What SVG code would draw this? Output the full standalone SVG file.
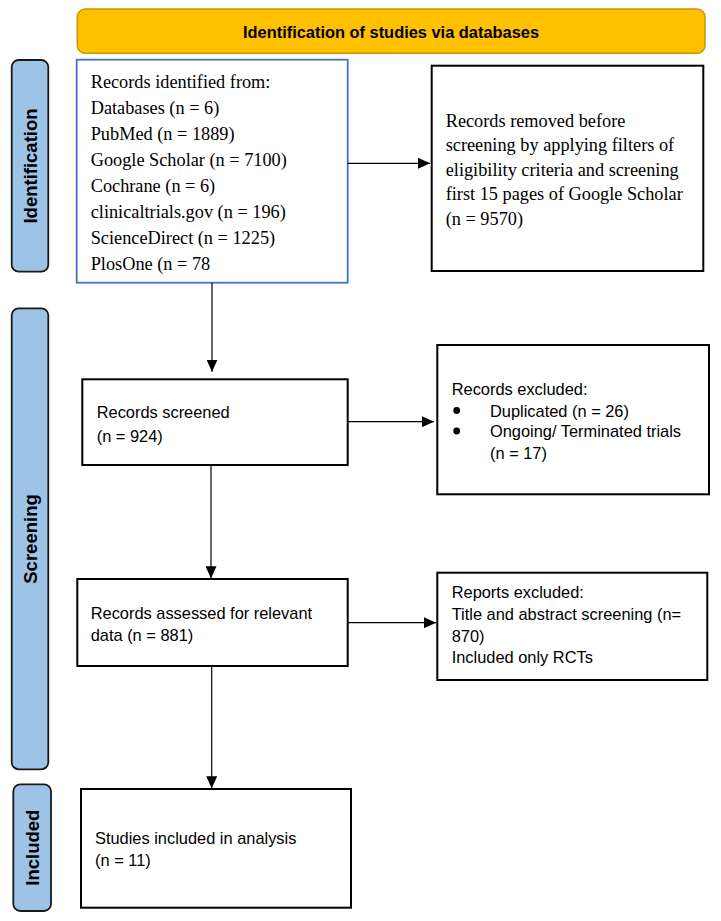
<svg xmlns="http://www.w3.org/2000/svg" width="721" height="921" viewBox="0 0 721 921">
<style>
.box{fill:#fff;stroke:#000;stroke-width:2}
.blue{fill:#fff;stroke:#4472C4;stroke-width:1.8}
.bar{fill:#9DC3E6;stroke:#1a1a1a;stroke-width:1.8}
.banner{fill:#FFC000;stroke:#C99700;stroke-width:1.5}
.serif{font-family:"Liberation Serif","Times New Roman",serif;font-size:18.3px;fill:#000}
.sans{font-family:"Liberation Sans",Arial,sans-serif;font-size:16.4px;fill:#000}
.lbl{font-family:"Liberation Sans",Arial,sans-serif;font-size:18.5px;font-weight:bold;fill:#000;text-anchor:middle}
.title{font-family:"Liberation Sans",Arial,sans-serif;font-size:16.4px;font-weight:bold;fill:#000;text-anchor:middle}
.conn{stroke:#000;stroke-width:1.2;fill:none}
</style>
<defs>
<marker id="arr" markerUnits="userSpaceOnUse" markerWidth="12" markerHeight="11" refX="12" refY="5.5" orient="auto">
<path d="M0,0 L12,5.5 L0,11 z" fill="#000"/>
</marker>
</defs>
<rect width="721" height="921" fill="#fff"/>

<g id="banner">
<rect class="banner" x="77.3" y="9" width="627.7" height="44.3" rx="8"/>
<text class="title" x="391" y="38">Identification of studies via databases</text>
</g>

<g id="phase-identification">
<rect class="bar" x="11.7" y="60" width="36.6" height="211.7" rx="7"/>
<text class="lbl" transform="translate(30,166) rotate(-90)" dy="6.5">Identification</text>
</g>
<g id="phase-screening">
<rect class="bar" x="11.7" y="308.3" width="36.6" height="461" rx="7"/>
<text class="lbl" transform="translate(30,539) rotate(-90)" dy="6.5">Screening</text>
</g>
<g id="phase-included">
<rect class="bar" x="13.3" y="784.3" width="37.7" height="126.7" rx="7"/>
<text class="lbl" transform="translate(32.2,847.7) rotate(-90)" dy="6.5">Included</text>
</g>

<g id="records-identified">
<rect class="blue" x="76.7" y="59.7" width="271" height="223"/>
<text class="serif">
<tspan x="90.7" y="88.3">Records identified from:</tspan>
<tspan x="90.7" y="114.2">Databases (n = 6)</tspan>
<tspan x="90.7" y="140.1">PubMed (n = 1889)</tspan>
<tspan x="90.7" y="166">Google Scholar (n = 7100)</tspan>
<tspan x="90.7" y="191.9">Cochrane (n = 6)</tspan>
<tspan x="90.7" y="217.8">clinicaltrials.gov (n = 196)</tspan>
<tspan x="90.7" y="243.7">ScienceDirect (n = 1225)</tspan>
<tspan x="90.7" y="269.6">PlosOne (n = 78</tspan>
</text>
</g>

<g id="records-removed">
<rect class="box" x="431.7" y="65.7" width="271.6" height="205.3"/>
<text class="serif">
<tspan x="445.7" y="126.7">Records removed before</tspan>
<tspan x="445.7" y="151.2">screening by applying filters of</tspan>
<tspan x="445.7" y="175.7">eligibility criteria and screening</tspan>
<tspan x="445.7" y="200.2">first 15 pages of Google Scholar</tspan>
<tspan x="445.7" y="224.7">(n = 9570)</tspan>
</text>
</g>

<g id="records-screened">
<rect class="box" x="82.3" y="379.3" width="265.4" height="85.7"/>
<text class="sans">
<tspan x="96.7" y="418.3">Records screened</tspan>
<tspan x="96.7" y="441.7">(n = 924)</tspan>
</text>
</g>

<g id="records-excluded">
<rect class="box" x="437.3" y="345" width="271.7" height="149.3"/>
<text class="sans">
<tspan x="451.7" y="395">Records excluded:</tspan>
<tspan x="490" y="416.7">Duplicated (n = 26)</tspan>
<tspan x="490" y="437.2">Ongoing/ Terminated trials</tspan>
<tspan x="490" y="458.5">(n = 17)</tspan>
</text>
<circle cx="456.7" cy="410.5" r="3.4" fill="#000"/>
<circle cx="456.7" cy="431" r="3.4" fill="#000"/>
</g>

<g id="records-assessed">
<rect class="box" x="77.3" y="579" width="270.4" height="87"/>
<text class="sans">
<tspan x="90.7" y="619">Records assessed for relevant</tspan>
<tspan x="90.7" y="640.7">data (n = 881)</tspan>
</text>
</g>

<g id="reports-excluded">
<rect class="box" x="437.3" y="572.7" width="270" height="107.3"/>
<text class="sans">
<tspan x="451.7" y="598.3">Reports excluded:</tspan>
<tspan x="451.7" y="620">Title and abstract screening (n=</tspan>
<tspan x="451.7" y="641.7">870)</tspan>
<tspan x="451.7" y="663.3">Included only RCTs</tspan>
</text>
</g>

<g id="studies-included">
<rect class="box" x="81" y="789" width="270" height="118.7"/>
<text class="sans">
<tspan x="95" y="844.3">Studies included in analysis</tspan>
<tspan x="95" y="865.7">(n = 11)</tspan>
</text>
</g>

<g id="connectors">
<line class="conn" x1="212" y1="282.7" x2="212" y2="371.7" marker-end="url(#arr)"/>
<line class="conn" x1="347.7" y1="163.3" x2="430" y2="163.3" marker-end="url(#arr)"/>
<line class="conn" x1="347.7" y1="421.7" x2="434" y2="421.7" marker-end="url(#arr)"/>
<line class="conn" x1="211" y1="465" x2="211" y2="578.3" marker-end="url(#arr)"/>
<line class="conn" x1="347.7" y1="622.7" x2="436" y2="622.7" marker-end="url(#arr)"/>
<line class="conn" x1="211.7" y1="666" x2="211.7" y2="788.3" marker-end="url(#arr)"/>
</g>
</svg>
